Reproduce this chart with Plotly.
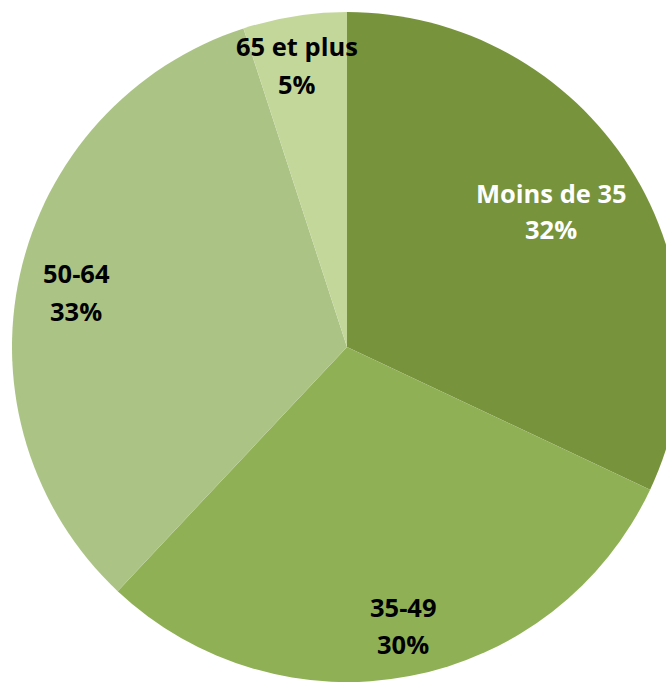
import plotly.graph_objects as go

# age groups and their shares (%)
labels = ["Moins de 35", "35-49", "50-64", "65 et plus"]
values = [32, 30, 33, 5]
colors = ["#77933C", "#8FB055", "#ABC485", "#C4D79B"]
text_colors = ["white", "black", "black", "black"]

W, H = 700, 687

# label centres in pixels (placed by hand like in the original chart)
label_pos = [(551, 211), (403, 625), (76, 292), (297, 65)]
line_gap = 37

fig = go.Figure()
fig.add_trace(go.Pie(
    labels=labels,
    values=values,
    sort=False,
    direction="clockwise",
    rotation=0,
    marker=dict(colors=colors, line=dict(width=0)),
    textinfo="none",
    hoverinfo="label+percent",
    domain=dict(x=[12 / W, 682 / W], y=[3 / H, 677 / H]),
    showlegend=False,
))

annotations = []
for lab, val, tc, (px_, py_) in zip(labels, values, text_colors, label_pos):
    for txt, dy in [(lab, -line_gap / 2), ("{}%".format(val), line_gap / 2)]:
        annotations.append(dict(
            x=px_ / W, y=(H - py_ - dy) / H, xref="paper", yref="paper",
            xanchor="center", yanchor="middle", showarrow=False,
            text="<b>{}</b>".format(txt),
            font=dict(family="Open Sans", size=25.5, color=tc),
        ))

fig.update_layout(
    width=W, height=H,
    margin=dict(l=0, r=0, t=0, b=0),
    paper_bgcolor="white",
    plot_bgcolor="white",
    annotations=annotations,
)

fig.write_html("out.html", config={"displayModeBar": False},
               post_script="document.body.style.margin='0';document.body.style.overflow='hidden';")
